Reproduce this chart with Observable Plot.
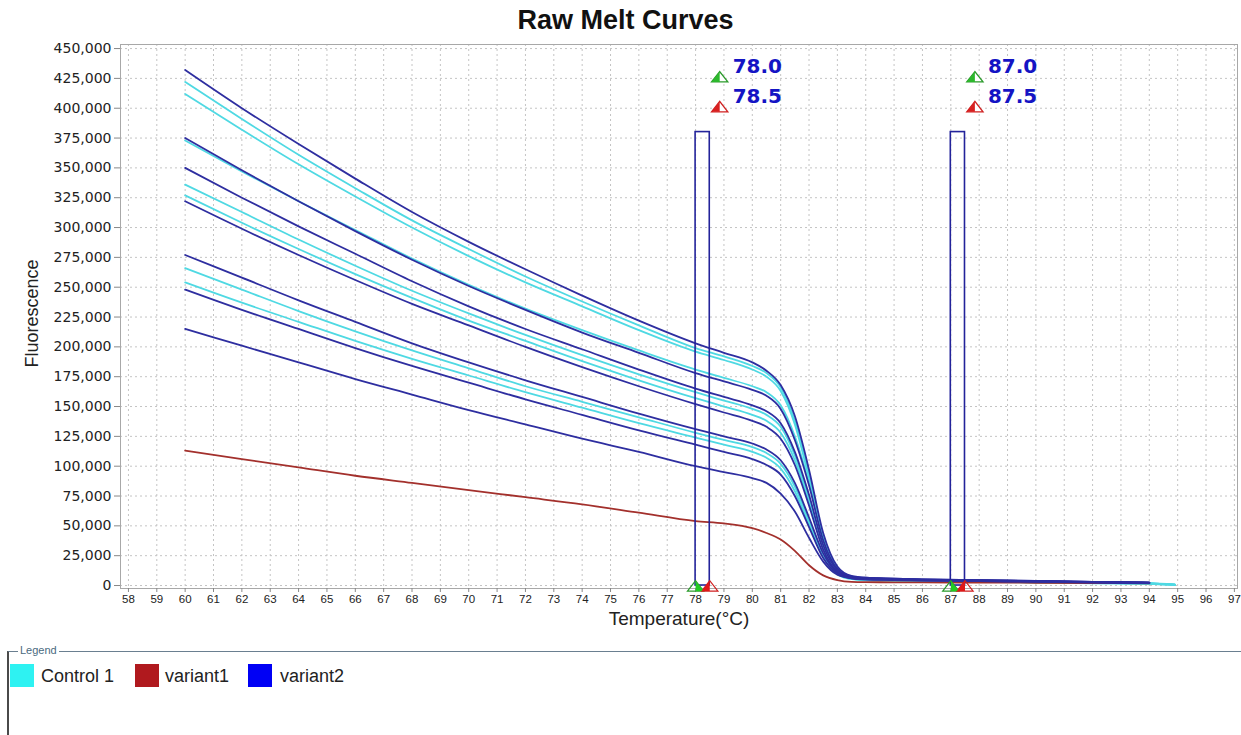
<!DOCTYPE html>
<html><head><meta charset="utf-8">
<script src="https://cdn.jsdelivr.net/npm/d3@7"></script>
<script src="https://cdn.jsdelivr.net/npm/@observablehq/plot@0.6"></script>
<style>
body{margin:0;background:#fff;font-family:"Liberation Sans",Arial,sans-serif;width:1241px;height:735px;overflow:hidden;}
#title{height:40px;line-height:40px;text-align:center;font-weight:bold;font-size:27px;color:#111;padding-left:10px;box-sizing:border-box;}
#chart{height:600px;}
#legend{position:relative;height:95px;}
#legend .frame{position:absolute;left:7px;top:11px;right:0;bottom:-5px;border-top:1px solid #6a7f90;border-left:2px solid #4a4a4a;}
#legend .cap{position:absolute;left:18px;top:4px;font-size:11px;color:#4a6a80;background:#fff;padding:0 2px;}
#legend .sw{position:absolute;top:24px;width:24px;height:23px;}
#legend .lb{position:absolute;top:25px;font-size:18px;color:#222;line-height:22px;}
</style></head><body>
<div id="title">Raw Melt Curves</div>
<div id="chart"></div>
<div id="legend"></div>
<script>
// ---- data (values in thousands of fluorescence units) ----
const temps = [60,62,64,66,68,70,72,74,76,78,79,80,80.5,81,81.5,82,82.5,83,83.5,84,85,86,88,90,92,94,94.9];

const v2_a = [432,400,370,341,313,288,265,243,222,203,195,187,180,168,142,97,44,16,8,6.5,5.8,5.2,4.5,3.8,3,2.5,null];
const c1_b = [422,391,361,333,306,282,259,238,218,199,192,184,178,166,138,93,41,15,7.5,6,5.3,4.8,4,3.3,2.5,2,0.8];
const c1_c = [412,382,353,326,300,276,254,234,214,196,189,181,175,163,135,90,39,14,7,5.8,5,4.5,3.8,3.2,2.4,1.8,0.8];
const v2_d = [375,348,322,297,273,251,231,212,195,178,171,164,159,148,122,84,38,14,7.5,6.5,5.8,5.2,4.5,3.8,3,2.5,null];
const c1_e = [373,347,322,298,274,252,232,214,197,181,174,167,162,151,125,86,38,13,6.5,5.5,4.8,4.3,3.6,3,2.3,1.8,0.8];
const v2_f = [350,325,301,278,255,234,215,198,181,165,158,151,146,136,112,76,34,13,7,6,5.5,5,4.3,3.7,3,2.4,null];
const c1_g = [336,313,290,268,247,228,210,193,177,162,155,148,143,133,109,73,33,12,6,5,4.5,4,3.4,2.8,2.2,1.7,0.7];
const c1_h = [327,304,282,261,241,222,205,188,172,157,150,143,138,128,105,70,31,11,5.8,4.8,4.3,3.9,3.3,2.7,2.1,1.6,0.7];
const v2_i = [322,299,277,256,236,218,200,183,167,152,145,138,133,123,101,67,30,11.5,6.5,5.8,5.2,4.8,4.2,3.6,2.9,2.3,null];
const v2_j = [277,258,239,221,203,187,172,158,144,131,125,119,114,105,86,57,27,11,6.5,5.6,5,4.6,4,3.4,2.8,2.2,null];
const c1_k = [266,248,230,213,197,182,167,154,141,128,122,116,111,102,83,54,25,10,5.5,4.6,4.1,3.7,3.2,2.6,2,1.5,0.6];
const c1_l = [254,237,221,205,190,176,162,149,136,124,118,112,107,98,79,51,24,9.5,5.3,4.4,4,3.6,3.1,2.5,1.9,1.4,0.6];
const v2_m = [248,231,215,199,184,170,156,143,130,118,112,106,101,93,75,49,23,10,6,5.3,4.8,4.4,3.8,3.3,2.6,2.1,null];
const v2_n = [215,201,187,173,160,147,135,123,112,100,95,90,86,77,62,40,20,9,6,5,4.6,4.2,3.6,3.1,2.5,2,null];
const v1_o = [113,106,99,92,86,80,74,68,61,54,52,48,44,38.5,29,17,8.5,4.5,3,2.8,2.7,2.6,2.5,2.3,2.1,1.9,null];

const groups = ["Control 1", "variant1", "variant2"];
const lineColors = ["#4fd9e3", "#a3302c", "#2e2ea0"];
const swatchColors = ["#2ef2f2", "#b0191e", "#0000f5"];

const xTicks = d3.range(58, 98);
const yTicks = d3.range(0, 450001, 25000);

const markerLo = [78.0, 87.0];
const markerHi = [78.5, 87.5];
const markerTop = 380000;
const markerLabelLo = ["78.0", "87.0"];
const markerLabelHi = ["78.5", "87.5"];

// ---- build table ----
const series = [
  ["c1_b","Control 1",c1_b],["c1_c","Control 1",c1_c],["c1_e","Control 1",c1_e],["c1_g","Control 1",c1_g],
  ["c1_h","Control 1",c1_h],["c1_k","Control 1",c1_k],["c1_l","Control 1",c1_l],
  ["v1_o","variant1",v1_o],
  ["v2_a","variant2",v2_a],["v2_d","variant2",v2_d],["v2_f","variant2",v2_f],["v2_i","variant2",v2_i],
  ["v2_j","variant2",v2_j],["v2_m","variant2",v2_m],["v2_n","variant2",v2_n]
];
const rows = [];
for (const [id, group, vals] of series) {
  vals.forEach((v, i) => { if (v != null) rows.push({id, group, t: temps[i], v: v * 1000}); });
}
const markers = markerLo.map((lo, i) => ({lo, hi: markerHi[i], mid: (lo + markerHi[i]) / 2, labLo: markerLabelLo[i], labHi: markerLabelHi[i]}));
const bottomTris = [];
markers.forEach(m => { bottomTris.push({t: m.lo, kind: "g"}); bottomTris.push({t: m.hi, kind: "r"}); });

function halfTri(side) {
  return {draw(ctx, size) {
    const r = Math.sqrt(size / Math.PI);
    const a = r * 1.05, b = r * 1.25, c = r * 0.55;
    ctx.moveTo(0, -a);
    if (side === "left") { ctx.lineTo(-b, c); ctx.lineTo(0, c); }
    else { ctx.lineTo(0, c); ctx.lineTo(b, c); }
    ctx.closePath();
  }};
}
const fullTri = {draw(ctx, size) {
  const r = Math.sqrt(size / Math.PI);
  const a = r * 1.05, b = r * 1.25, c = r * 0.55;
  ctx.moveTo(0, -a); ctx.lineTo(-b, c); ctx.lineTo(b, c); ctx.closePath();
}};
const green = "#2a9a2a", red = "#d02020";

const chart = Plot.plot({
  width: 1241, height: 600,
  marginTop: 4, marginBottom: 52, marginLeft: 120, marginRight: 4,
  style: {fontFamily: "Liberation Sans, Arial, sans-serif", fontSize: "11px", color: "#333", background: "#fff", overflow: "visible"},
  x: {domain: [57.72, 97.11]},
  y: {domain: [-2500, 453400]},
  color: {domain: groups, range: lineColors},
  marks: [
    Plot.gridX(xTicks, {stroke: "#c4c4c4", strokeOpacity: 1, strokeDasharray: "2,3"}),
    Plot.gridY(yTicks, {stroke: "#c4c4c4", strokeOpacity: 1, strokeDasharray: "2,3"}),
    Plot.frame({stroke: "#a8a8a8"}),
    Plot.axisX(xTicks, {tickSize: 4, tickPadding: 2, tickFormat: d => String(d), label: null, fontSize: 11.5, fill: "#222", stroke: "#888"}),
    Plot.axisY(yTicks, {tickSize: 6, tickPadding: 3, tickFormat: d3.format(","), label: null, fontSize: 14, fontFamily: "DejaVu Sans, sans-serif", fill: "#222", stroke: "#888"}),
    Plot.line(rows, {x: "t", y: "v", z: "id", stroke: "group", strokeWidth: 1.8, curve: "monotone-x"}),
    Plot.rect(markers, {x1: "lo", x2: "hi", y1: 0, y2: markerTop, fill: "none", stroke: "#23239a", strokeWidth: 1.6}),
    // bottom triangles
    Plot.dot(bottomTris, {x: "t", y: 0, dy: 2, r: 6.5, symbol: fullTri, fill: "none", stroke: d => d.kind === "g" ? green : red, strokeWidth: 1.2}),
    Plot.dot(bottomTris, {x: "t", y: 0, dy: 2, r: 6.5, symbol: d => d.kind === "g" ? halfTri("right") : halfTri("left"), fill: d => d.kind === "g" ? "#22cc22" : "#e01818", stroke: "none"}),
    // top markers
    Plot.dot(markers, {x: "mid", y: 425000, dx: 17, r: 6.5, symbol: fullTri, fill: "#fff", stroke: green, strokeWidth: 1.3}),
    Plot.dot(markers, {x: "mid", y: 425000, dx: 17, r: 6.5, symbol: halfTri("left"), fill: "#2cb82c"}),
    Plot.dot(markers, {x: "mid", y: 400000, dx: 17, r: 6.5, symbol: fullTri, fill: "#fff", stroke: red, strokeWidth: 1.3}),
    Plot.dot(markers, {x: "mid", y: 400000, dx: 17, r: 6.5, symbol: halfTri("left"), fill: "#d82020"}),
    Plot.text(markers, {x: "mid", y: 435000, dx: 30, text: "labLo", textAnchor: "start", fontSize: 20, fontWeight: "bold", fontFamily: "DejaVu Sans, sans-serif", fill: "#1414c4"}),
    Plot.text(markers, {x: "mid", y: 410000, dx: 30, text: "labHi", textAnchor: "start", fontSize: 20, fontWeight: "bold", fontFamily: "DejaVu Sans, sans-serif", fill: "#1414c4"}),
    // axis titles
    Plot.text(["Temperature(°C)"], {frameAnchor: "bottom", dy: 36, text: d => d, fontSize: 19, fill: "#222"}),
    Plot.text(["Fluorescence"], {y: () => 228000, frameAnchor: "left", textAnchor: "middle", dx: -88, rotate: -90, text: d => d, fontSize: 18, fill: "#222"})
  ]
});
document.getElementById("chart").appendChild(chart);

// legend
const lg = document.getElementById("legend");
lg.innerHTML = '<div class="frame"></div><div class="cap">Legend</div>';
const swX = [10, 135, 248];
const lbX = [41, 165, 280];
groups.forEach((g, i) => {
  const s = document.createElement("div"); s.className = "sw"; s.style.left = swX[i] + "px"; s.style.background = swatchColors[i]; lg.appendChild(s);
  const l = document.createElement("div"); l.className = "lb"; l.style.left = lbX[i] + "px"; l.textContent = g; lg.appendChild(l);
});
</script>
</body></html>
